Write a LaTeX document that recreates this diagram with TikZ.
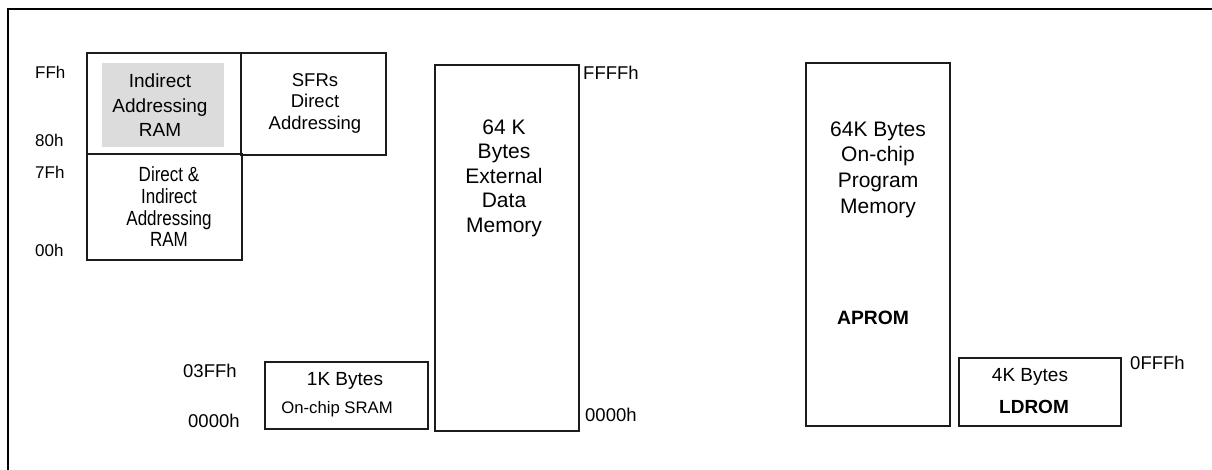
\documentclass[tikz,border=0pt]{standalone}
\usepackage{fontspec}
\usepackage{graphicx}
\setmainfont{Liberation Sans}
\usetikzlibrary{positioning}
\definecolor{boxgray}{RGB}{220,220,220}
\definecolor{linedark}{RGB}{28,28,28}

\tikzset{
    mem/.style={draw=linedark, line width=1.4pt, rectangle, inner sep=0pt},
    addr/.style={anchor=west, inner sep=0pt, font=\fontsize{18.5}{22}\selectfont},
    smalladdr/.style={anchor=west, inner sep=0pt, font=\fontsize{17}{20}\selectfont},
    memtext/.style={align=center, inner sep=0pt},
}

\begin{document}
\begin{tikzpicture}[x=1pt, y=-1pt]
        \useasboundingbox (0,0) rectangle (1212,470);

        % Frame (only top and left edges show)
        \draw[line width=2pt] (8,472) -- (8,9) -- (1214,9);

        % Internal RAM and SFRs
        \node[fill=boxgray, minimum width=122pt, minimum height=84pt, inner sep=0pt] (indgray) at (163,105) {};
        \node[mem, minimum width=154pt, minimum height=101pt] (ind) at (164,103.5) {};
        \node[mem, minimum width=145pt, minimum height=102pt] (sfr) at (313.5,104) {};
        \node[mem, minimum width=155pt, minimum height=106pt] (dir) at (164.5,207) {};

        \node[memtext, font=\fontsize{19}{24.5}\selectfont] (indtxt) at (160,105.5) {Indirect\\Addressing\\RAM};
        \node[memtext, font=\fontsize{18.5}{21.5}\selectfont] (sfrtxt) at (315,103) {SFRs\\Direct\\Addressing};
        \node[inner sep=0pt, font=\fontsize{20.5}{21.7}\selectfont] (dirtxt) at (169,210)
            {\scalebox{0.83}[1]{\begin{tabular}{@{}c@{}}Direct \&\\Indirect\\Addressing\\RAM\end{tabular}}};

        \node[smalladdr] (ffh) at (35,72) {FFh};
        \node[smalladdr] (h80) at (35,140) {80h};
        \node[smalladdr] (h7f) at (35,172) {7Fh};
        \node[smalladdr] (h00) at (35,250) {00h};

        % On-chip SRAM
        \node[mem, minimum width=163pt, minimum height=67pt] (sram) at (346.5,395.5) {};
        \node[inner sep=0pt, font=\fontsize{19}{22}\selectfont] (sramtop) at (345,381) {1K Bytes};
        \node[inner sep=0pt, font=\fontsize{16.7}{20}\selectfont] (srambot) at (337,409) {On-chip SRAM};
        \node[addr] (sramhi) at (183,371) {03FFh};
        \node[addr] (sramlo) at (188,421) {0000h};

        % External data memory
        \node[mem, minimum width=144pt, minimum height=366pt] (ext) at (507,248) {};
        \node[memtext, font=\fontsize{21}{24.5}\selectfont] (exttxt) at (504,178) {64 K\\Bytes\\External\\Data\\Memory};
        \node[addr] (exthi) at (583,73) {FFFFh};
        \node[addr] (extlo) at (585,415) {0000h};

        % Program memory
        \node[mem, minimum width=144pt, minimum height=363pt] (aprom) at (878,244.5) {};
        \node[memtext, font=\fontsize{21}{25.7}\selectfont] (apromtxt) at (878,169.5) {64K Bytes\\On-chip\\Program\\Memory};
        \node[inner sep=0pt, font=\fontsize{19.3}{22}\selectfont\bfseries] (apromlbl) at (873,318) {APROM};

        \node[mem, minimum width=162pt, minimum height=68pt] (ldrom) at (1040,392) {};
        \node[inner sep=0pt, font=\fontsize{19}{22}\selectfont] (ldromtop) at (1030,377) {4K Bytes};
        \node[inner sep=0pt, font=\fontsize{19}{22}\selectfont\bfseries] (ldromlbl) at (1034,407) {LDROM};
        \node[addr] (ldromhi) at (1130,363) {0FFFh};
    \end{tikzpicture}
\end{document}
